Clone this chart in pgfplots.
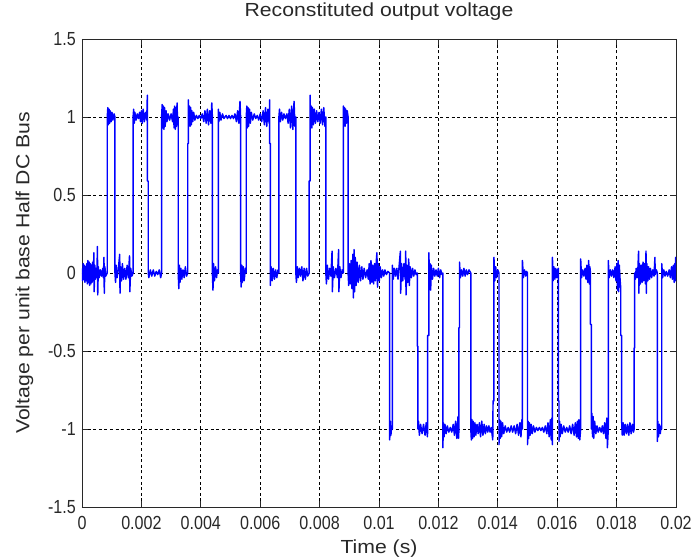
\documentclass[border=0pt]{standalone}
\usepackage{pgfplots}
\pgfplotsset{compat=1.18}
\usepackage{fontspec}
\setmainfont{Liberation Sans}
\newfontfamily\labelfont[FakeStretch=1.12]{Liberation Sans}
\newfontfamily\tickfont[FakeStretch=0.85]{Liberation Sans}
\definecolor{mblue}{RGB}{0,0,255}
\definecolor{axgray}{RGB}{40,40,40}
\begin{document}
\begin{tikzpicture}
\useasboundingbox (-82bp,-53bp) rectangle (611bp,507bp);
\begin{axis}[
  at={(0,0)}, anchor=south west,
  scale only axis, width=594bp, height=468bp,
  xmin=0, xmax=0.02, ymin=-1.5, ymax=1.5,
  xtick={0,0.002,0.004,0.006,0.008,0.01,0.012,0.014,0.016,0.018,0.02},
  xticklabels={0,0.002,0.004,0.006,0.008,0.01,0.012,0.014,0.016,0.018,0.02},
  ytick={-1.5,-1,-0.5,0,0.5,1,1.5},
  yticklabels={-1.5,-1,-0.5,0,0.5,1,1.5},
  scaled x ticks=false, scaled y ticks=false,
  tick align=inside, tick pos=both, major tick length=6bp,
  tick style={axgray, line width=0.7bp},
  axis line style={axgray, line width=0.9bp},
  grid=major,
  grid style={black, line width=0.7bp, dash pattern=on 3bp off 2.6bp},
  xticklabel style={font=\tickfont\fontsize{19}{19}\selectfont, text=axgray, anchor=base, yshift=-22.6bp},
  yticklabel style={font=\tickfont\fontsize{19}{19}\selectfont, text=axgray, anchor=east, inner sep=0pt, xshift=-6bp},
  title={Reconstituted output voltage},
  title style={font=\labelfont\fontsize{19}{19}\selectfont, text=axgray, at={(axis description cs:0.5,1.0355)}, anchor=base, inner sep=0pt},
  xlabel={Time (s)},
  xlabel style={font=\labelfont\fontsize{19}{19}\selectfont, text=axgray, at={(axis description cs:0.5,-0.0996)}, anchor=base, inner sep=0pt},
  ylabel={Voltage per unit base Half DC Bus},
  ylabel style={font=\labelfont\fontsize{19}{19}\selectfont, text=axgray, at={(axis description cs:-0.0887,0.5)}, anchor=base, inner sep=0pt, rotate=0},
]
\addplot[mblue, line width=1.45bp, line join=round] table {
t v
0 0.03
0.00002 -0.05
0.00004 0.06
0.00006 -0.04
0.00008 0.05
0.0001 -0.06
0.00012 0.04
0.00014 -0.05
0.00016 0.06
0.00018 -0.07
0.0002 0.08
0.00022 -0.06
0.00024 0.07
0.00026 -0.08
0.00028 0.06
0.0003 -0.07
0.00032 0.05
0.00034 -0.06
0.00036 0.07
0.00038 -0.05
0.0004 0.13
0.00041 -0.12
0.00043 0.05
0.00045 -0.04
0.00047 0.03
0.0005 -0.03
0.00052 0.17
0.00053 -0.14
0.00055 0.04
0.00058 -0.03
0.00062 0.02
0.00066 -0.02
0.0007 0.03
0.00072 -0.03
0.00074 0.1
0.00075 -0.13
0.00077 0.04
0.0008 -0.02
0.00085 0
0.00085 1
0.00087 1.06
0.00089 0.95
0.00091 1.05
0.00093 0.96
0.00095 1.04
0.00098 0.97
0.00101 1.03
0.00104 0.98
0.00108 1.02
0.00111 1
0.00111 0
0.00113 -0.06
0.00115 0.05
0.00118 -0.03
0.00122 0.02
0.00127 0.12
0.00128 -0.13
0.0013 0.04
0.00133 -0.05
0.00136 0.06
0.0014 -0.04
0.00144 0.03
0.00148 -0.04
0.00152 0.05
0.00156 -0.03
0.0016 0.11
0.00161 -0.12
0.00164 0.03
0.00168 -0.02
0.00172 0
0.00172 1
0.00174 1.05
0.00176 0.96
0.00178 1.03
0.00182 0.98
0.00186 1.02
0.0019 0.99
0.00194 1.03
0.00197 0.97
0.002 1.04
0.00203 0.96
0.00206 1.05
0.0021 0.97
0.00214 1.03
0.00218 0.98
0.0022 1.14
0.0022 0.59
0.00223 0.59
0.00223 0
0.00225 -0.03
0.0023 0.02
0.00235 -0.02
0.0024 0.02
0.00245 -0.02
0.0025 0.01
0.00255 -0.01
0.0026 0.02
0.00265 -0.03
0.00268 0
0.00268 1
0.0027 1.08
0.00272 0.93
0.00274 1.07
0.00276 0.92
0.00278 1.06
0.0028 0.94
0.00283 1.04
0.00286 0.97
0.0029 1.02
0.00295 0.98
0.003 1.02
0.00305 0.97
0.00308 1.05
0.0031 0.93
0.00312 1.07
0.00314 0.92
0.00316 1.06
0.00318 0.94
0.0032 1.09
0.00322 0.95
0.00324 1
0.00324 0
0.00326 -0.1
0.00328 0.05
0.0033 -0.06
0.00333 0.03
0.00336 -0.04
0.0034 0.02
0.00344 -0.03
0.00348 0.04
0.00352 -0.02
0.00356 0
0.00356 0.83
0.00358 0.83
0.00358 1.11
0.0036 0.96
0.00362 1.07
0.00364 0.94
0.00366 1.06
0.00368 0.95
0.0037 1.04
0.00373 0.97
0.00376 1.03
0.0038 0.98
0.00385 1.01
0.0039 0.99
0.00395 1.01
0.004 0.99
0.00405 1.02
0.0041 0.97
0.00414 1.04
0.00418 0.96
0.00422 1.05
0.00426 0.95
0.0043 1.04
0.00434 0.96
0.00437 1.09
0.00439 1
0.00439 0
0.00441 -0.11
0.00443 0.06
0.00446 -0.05
0.0045 0.04
0.00453 -0.03
0.00456 0.02
0.00459 0
0.00459 1.05
0.00461 0.97
0.00464 1.03
0.00468 0.98
0.00473 1.02
0.00478 0.99
0.00485 1.01
0.0049 0.99
0.00495 1.01
0.005 0.99
0.00505 1.01
0.0051 0.99
0.00515 1.02
0.0052 0.97
0.00524 1.04
0.00528 0.96
0.00532 1.1
0.00534 1
0.00534 0
0.00536 -0.09
0.00538 0.05
0.0054 -0.06
0.00543 0.04
0.00546 -0.05
0.0055 0.03
0.00553 0
0.00553 1
0.00555 1.07
0.00557 0.93
0.00559 1.06
0.00561 0.94
0.00564 1.05
0.00567 0.96
0.0057 1.03
0.00575 0.98
0.0058 1.02
0.00585 0.99
0.0059 1.01
0.00595 0.98
0.006 1.02
0.00605 0.97
0.0061 1.04
0.00614 0.95
0.00618 1.06
0.00622 0.94
0.00626 1.05
0.0063 0.96
0.00632 1.11
0.00632 0.83
0.00634 0.83
0.00634 -0.08
0.00637 0.04
0.0064 -0.05
0.00644 0.03
0.00648 -0.04
0.00652 0.02
0.00656 -0.03
0.0066 0.02
0.00663 0
0.00663 1
0.00665 1.05
0.00668 0.97
0.00672 1.03
0.00676 0.98
0.0068 1.02
0.00685 0.99
0.0069 1.02
0.00694 0.96
0.00698 1.05
0.00702 0.93
0.00706 1.07
0.0071 0.92
0.00714 1.1
0.00717 0.94
0.0072 1
0.0072 0
0.00722 -0.06
0.00725 0.04
0.00728 -0.03
0.00732 0.03
0.00736 -0.02
0.0074 0.04
0.00744 -0.05
0.00748 0.03
0.00752 -0.04
0.00756 0.03
0.0076 -0.02
0.00765 0
0.00765 0.59
0.00768 0.59
0.00768 1.14
0.0077 0.94
0.00772 1.07
0.00774 0.93
0.00776 1.06
0.00779 0.95
0.00782 1.05
0.00786 0.96
0.0079 1.04
0.00794 0.97
0.00798 1.03
0.00802 0.96
0.00806 1.05
0.0081 0.95
0.00814 1.06
0.00818 0.94
0.00821 1
0.00821 0
0.00823 -0.07
0.00826 0.05
0.0083 -0.04
0.00834 0.03
0.00838 -0.02
0.00842 0.14
0.00843 -0.12
0.00846 0.04
0.0085 -0.03
0.00855 0.03
0.0086 -0.03
0.00864 0.15
0.00865 -0.12
0.00868 0.04
0.00872 -0.03
0.00876 0.02
0.0088 0
0.0088 1.07
0.00882 0.95
0.00884 1.06
0.00886 0.94
0.00888 1.05
0.0089 0.96
0.00893 1.04
0.00896 1
0.00896 0
0.00898 -0.08
0.009 0.06
0.00903 -0.07
0.00906 0.08
0.00909 -0.1
0.00912 0.12
0.00914 -0.16
0.00916 0.15
0.00918 -0.12
0.0092 0.1
0.00923 -0.08
0.00926 0.07
0.0093 -0.06
0.00934 0.05
0.00938 -0.05
0.00942 0.04
0.00946 -0.04
0.0095 0.03
0.00955 -0.03
0.0096 0.02
0.00964 -0.04
0.00967 0.06
0.0097 -0.07
0.00973 0.08
0.00976 -0.06
0.00979 0.05
0.00982 -0.07
0.00985 0.06
0.00988 -0.05
0.00991 0.08
0.00993 0.13
0.00995 -0.09
0.00998 0.06
0.01001 -0.05
0.01004 0.04
0.01008 -0.03
0.01012 0.02
0.01016 -0.02
0.0102 0.02
0.01025 -0.01
0.0103 0.01
0.01036 0
0.01036 -1.07
0.01038 -0.95
0.0104 -1.04
0.01043 -0.98
0.01045 -1
0.01045 0.05
0.01048 -0.04
0.01052 0.03
0.01056 -0.02
0.0106 0.03
0.01064 -0.04
0.01068 0.05
0.01072 0.14
0.01073 -0.13
0.01076 0.06
0.0108 -0.05
0.01084 0.06
0.01088 -0.04
0.0109 0.14
0.01091 -0.14
0.01094 0.05
0.01097 -0.06
0.011 0.09
0.01102 -0.08
0.01105 0.04
0.01109 -0.03
0.01113 0.03
0.01117 -0.02
0.01121 0.02
0.01125 -0.01
0.01129 0
0.01129 -0.47
0.01131 -0.47
0.01131 -1
0.01133 -0.95
0.01136 -1.04
0.0114 -0.97
0.01145 -1.03
0.0115 -0.97
0.01155 -1.04
0.01159 -0.96
0.01163 -1.05
0.01164 -1
0.01164 -0.4
0.01168 -0.4
0.01168 0.13
0.0117 -0.08
0.01172 0.06
0.01174 -0.11
0.01176 0.05
0.0118 -0.04
0.01184 0.03
0.01188 -0.02
0.01192 0.02
0.01196 -0.02
0.012 0.03
0.01204 -0.03
0.01208 0.02
0.01212 -0.01
0.01215 0
0.01215 -1.12
0.01217 -0.96
0.01219 -1.05
0.01222 -0.97
0.01226 -1.03
0.0123 -0.98
0.01235 -1.02
0.0124 -0.99
0.01245 -1.02
0.0125 -0.97
0.01254 -1.04
0.01258 -0.95
0.01262 -1.06
0.01266 -0.92
0.01268 -1.06
0.01269 -1
0.01269 -0.35
0.01271 -0.35
0.01271 0.07
0.01274 -0.03
0.01278 0.02
0.01282 -0.02
0.01286 0.03
0.0129 -0.02
0.01294 0.02
0.01298 -0.01
0.01303 0.02
0.01309 0
0.01309 -1
0.01311 -1.07
0.01313 -0.94
0.01315 -1.06
0.01317 -0.95
0.0132 -1.05
0.01323 -0.96
0.01326 -1.04
0.0133 -0.97
0.01334 -1.03
0.01338 -0.96
0.01342 -1.05
0.01346 -0.95
0.0135 -1.04
0.01354 -0.97
0.01358 -1.03
0.01362 -0.98
0.01366 -1.02
0.0137 -0.98
0.01374 -1.02
0.01378 -0.99
0.01383 -1.07
0.01384 -0.82
0.01387 -0.82
0.01387 0.1
0.0139 -0.05
0.01393 0.04
0.01396 -0.03
0.014 0.02
0.01404 0
0.01404 -1.1
0.01406 -0.94
0.01408 -1.06
0.0141 -0.95
0.01413 -1.05
0.01416 -0.96
0.0142 -1.03
0.01425 -0.98
0.0143 -1.02
0.01435 -0.99
0.0144 -1.02
0.01445 -0.98
0.0145 -1.02
0.01455 -0.98
0.0146 -1.03
0.01465 -0.97
0.0147 -1.04
0.01474 -0.96
0.01478 -1.05
0.01481 -0.94
0.01483 -1
0.01483 0.08
0.01486 -0.03
0.0149 0.02
0.01494 -0.02
0.01497 0.01
0.015 0
0.015 -1.1
0.01502 -0.95
0.01504 -1.06
0.01506 -0.96
0.01509 -1.04
0.01512 -0.97
0.01516 -1.03
0.0152 -0.98
0.01525 -1.02
0.0153 -0.99
0.01535 -1.01
0.0154 -0.99
0.01545 -1.01
0.0155 -0.99
0.01555 -1.02
0.0156 -0.98
0.01565 -1.03
0.01569 -0.96
0.01573 -1.05
0.01577 -0.94
0.0158 -1.07
0.01582 -0.93
0.01584 -1.1
0.01584 0.1
0.01586 -0.05
0.01589 0.04
0.01592 -0.04
0.01595 0.03
0.01598 -0.03
0.01601 0.02
0.01604 0.03
0.01604 -0.82
0.01606 -0.82
0.01606 -1.08
0.01608 -0.95
0.0161 -1.05
0.01613 -0.97
0.01617 -1.03
0.01622 -0.98
0.01627 -1.02
0.01632 -0.99
0.01637 -1.02
0.01642 -0.98
0.01647 -1.03
0.01652 -0.97
0.01657 -1.04
0.01661 -0.96
0.01665 -1.05
0.01668 -0.95
0.01671 -1.06
0.01673 -0.94
0.01676 -1.07
0.01679 -1
0.01679 0.09
0.01682 -0.03
0.01686 0.02
0.0169 -0.02
0.01694 0.03
0.01697 -0.04
0.017 0.05
0.01703 -0.06
0.01706 0.08
0.01708 -0.07
0.0171 0.04
0.01712 0
0.01712 -0.33
0.01715 -0.33
0.01715 -1
0.01717 -0.9
0.01719 -1.05
0.01721 -0.92
0.01723 -1.06
0.01726 -0.95
0.0173 -1.03
0.01734 -0.98
0.01738 -1.02
0.01743 -0.99
0.01748 -1.02
0.01752 -0.98
0.01756 -1.03
0.0176 -0.96
0.01764 -1.06
0.01767 -0.93
0.01769 -1.12
0.01772 -1
0.01772 0.08
0.01775 -0.03
0.01779 0.02
0.01783 -0.02
0.01787 0.02
0.01791 -0.03
0.01795 0.04
0.01798 -0.05
0.01801 0.06
0.01803 -0.11
0.01805 0.08
0.01807 -0.12
0.01809 0.05
0.01812 -0.05
0.01814 -0.1
0.01814 -0.4
0.01817 -0.4
0.01817 -0.95
0.01819 -1.04
0.01822 -0.96
0.01825 -1.04
0.01829 -0.97
0.01833 -1.03
0.01837 -0.97
0.01841 -1.04
0.01845 -0.96
0.01849 -1.03
0.01853 -0.97
0.01857 -1.02
0.01859 -1
0.01859 -0.48
0.01861 -0.48
0.01861 0.0
0.01863 -0.04
0.01866 0.03
0.01869 -0.03
0.01872 0.04
0.01874 0.14
0.01875 -0.13
0.01877 0.06
0.0188 -0.07
0.01883 0.05
0.01886 -0.06
0.01889 0.07
0.01891 -0.05
0.01894 0.06
0.01897 -0.07
0.01899 0.14
0.019 -0.13
0.01902 0.06
0.01905 -0.05
0.01908 0.04
0.01911 -0.04
0.01914 0.03
0.01918 -0.03
0.01922 0.02
0.01926 -0.02
0.01929 0.1
0.0193 -0.01
0.01934 0.02
0.01937 0
0.01937 -1.08
0.01939 -0.95
0.01941 -1.05
0.01944 -0.97
0.01947 -1.03
0.0195 -0.98
0.01952 -1
0.01952 0.06
0.01955 -0.03
0.01959 0.02
0.01963 -0.02
0.01967 0.01
0.01972 -0.02
0.01977 0.02
0.01981 -0.03
0.01985 0.04
0.01988 -0.04
0.01991 0.05
0.01994 -0.06
0.01996 0.06
0.01998 -0.05
0.01999 0.1
0.02 0
};
\end{axis}
\end{tikzpicture}
\end{document}
